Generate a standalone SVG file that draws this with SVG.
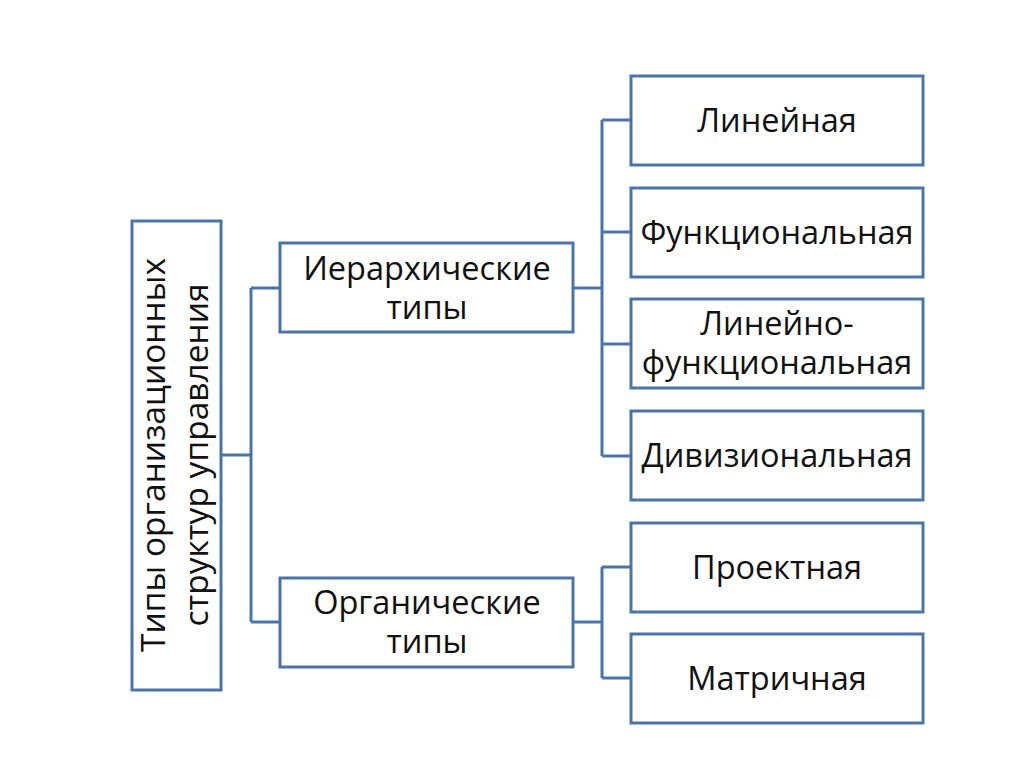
<svg xmlns="http://www.w3.org/2000/svg" width="1024" height="767" viewBox="0 0 1024 767">
<style>
.box{fill:#fff;stroke:#4a74a8;stroke-width:3}
.ln{fill:none;stroke:#4a74a8;stroke-width:3}
text{font-family:"Open Sans","Liberation Sans",sans-serif;font-size:32.5px;fill:#111;text-anchor:middle}
</style>
<rect width="1024" height="767" fill="#fff"/>
<g id="connectors">
<path class="ln" d="M221 455H251M251 288V622M251 288H280M251 622H280"/>
<path class="ln" d="M573 288H602M602 120V456M602 120H630M602 232H630M602 344H630M602 456H630"/>
<path class="ln" d="M573 622H602M602 567V678M602 567H630M602 678H630"/>
</g>
<g id="root">
<rect class="box" x="132" y="221" width="89" height="469"/>
<text transform="translate(176 455) rotate(-90)" style="font-size:33.5px"><tspan x="0" y="-11">Типы организационных</tspan><tspan x="0" y="32">структур управления</tspan></text>
</g>
<g id="hier">
<rect class="box" x="280" y="243" width="293" height="89"/>
<text x="427" y="280"><tspan x="427" y="280">Иерархические</tspan><tspan x="427" y="319">типы</tspan></text>
</g>
<g id="org">
<rect class="box" x="280" y="578" width="293" height="89"/>
<text x="427" y="614"><tspan x="427" y="614">Органические</tspan><tspan x="427" y="653">типы</tspan></text>
</g>
<g id="n1">
<rect class="box" x="631" y="76" width="292" height="89"/>
<text x="777" y="132">Линейная</text>
</g>
<g id="n2">
<rect class="box" x="631" y="188" width="292" height="89"/>
<text x="777" y="244">Функциональная</text>
</g>
<g id="n3">
<rect class="box" x="631" y="299" width="292" height="89"/>
<text x="777" y="335"><tspan x="777" y="335">Линейно-</tspan><tspan x="777" y="374">функциональная</tspan></text>
</g>
<g id="n4">
<rect class="box" x="631" y="411" width="292" height="89"/>
<text x="777" y="467">Дивизиональная</text>
</g>
<g id="n5">
<rect class="box" x="631" y="523" width="292" height="89"/>
<text x="777" y="579">Проектная</text>
</g>
<g id="n6">
<rect class="box" x="631" y="634" width="292" height="89"/>
<text x="777" y="690">Матричная</text>
</g>
</svg>
